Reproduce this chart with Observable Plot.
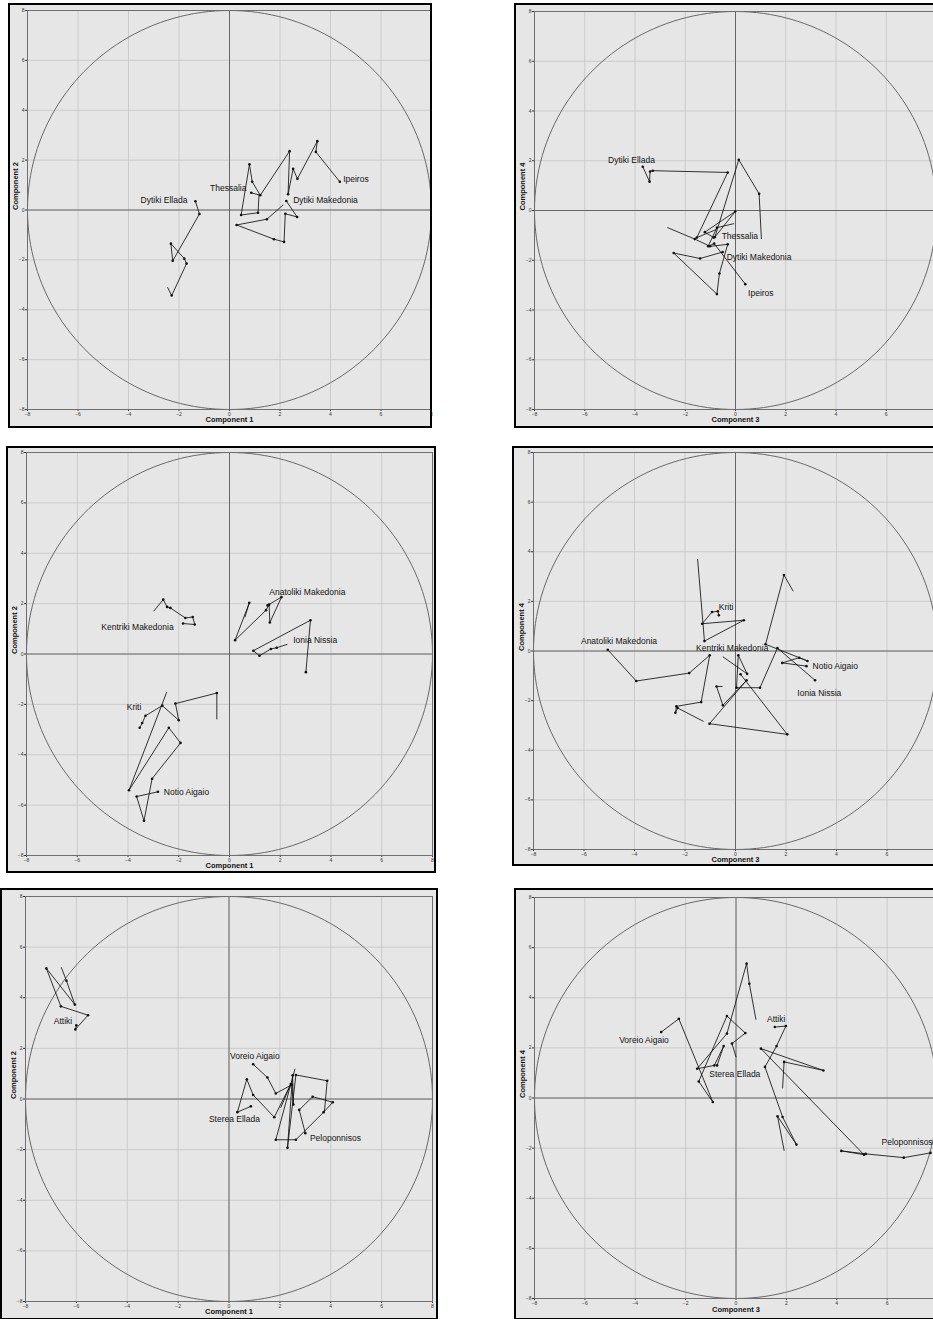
<!DOCTYPE html>
<html><head><meta charset="utf-8">
<script src="https://cdn.jsdelivr.net/npm/d3@7"></script>
<script src="https://cdn.jsdelivr.net/npm/@observablehq/plot@0.6"></script>
<style>
html,body{margin:0;padding:0;background:#fff;width:933px;height:1319px;overflow:hidden;}
#root{position:relative;width:933px;height:1319px;overflow:hidden;font-family:"Liberation Sans",Arial,sans-serif;}
.bg{position:absolute;background:#e6e6e6;}
.bd{position:absolute;border:2px solid #000;box-sizing:border-box;pointer-events:none;}
.pl{position:absolute;}
</style></head><body>
<div id="root"></div>
<script>
// ---- tick values ----
const ticks = [-8, -6, -4, -2, 0, 2, 4, 6, 8];

// ---- Top-left: Component 1 vs Component 2 ----
const tl_dytikiEllada = [[-2.45,-3.11],[-2.29,-3.43],[-1.70,-2.15],[-1.79,-1.95],[-2.32,-1.35],[-2.25,-2.04],[-1.19,-0.16],[-1.35,0.35]];
const tl_thessalia = [[1.17,0.63],[1.13,-0.11],[0.46,-0.20],[0.79,1.83],[0.90,1.13],[1.22,0.59],[0.86,0.69]];
const tl_ipeiros = [[1.22,0.59],[2.38,2.36],[2.32,0.63],[2.52,1.65],[2.69,1.25],[3.48,2.76],[3.42,2.33],[4.37,1.13]];
const tl_dytikiMakedonia = [[2.12,0.20],[1.48,-0.37],[0.28,-0.60],[1.76,-1.17],[2.16,-1.28],[2.21,-0.15],[2.68,-0.28],[2.25,0.36]];
const tl_labels = [
  {text:"Dytiki Ellada", x:-3.52, y:0.40},
  {text:"Thessalia", x:-0.77, y:0.89},
  {text:"Ipeiros", x:4.5, y:1.23},
  {text:"Dytiki Makedonia", x:2.52, y:0.39}
];

// ---- Top-right: Component 3 vs Component 4 ----
const tr_dytikiEllada = [[-0.78,-0.77],[-1.54,-1.09],[-0.31,1.53],[-3.29,1.60],[-3.40,1.57],[-3.42,1.16],[-3.69,1.76]];
const tr_thessalia = [[1.03,-1.13],[0.94,0.67],[0.13,2.04],[-0.82,-1.07],[-0.01,-0.04],[-1.22,-0.87],[-0.87,-1.09]];
const tr_dytikiMakedonia = [[-2.70,-0.69],[-1.62,-1.15],[-1.01,-1.44],[-0.31,-1.36],[-0.64,-2.53],[-0.74,-3.36],[-2.46,-1.71],[-1.41,-1.93],[-0.51,-1.67]];
const tr_ipeiros = [[-0.07,-0.53],[-0.74,-0.69],[-1.09,-1.44],[-0.85,-1.33],[0.39,-2.96]];
const tr_labels = [
  {text:"Dytiki Ellada", x:-5.07, y:2.0},
  {text:"Thessalia", x:-0.55, y:-1.04},
  {text:"Dytiki Makedonia", x:-0.35, y:-1.89},
  {text:"Ipeiros", x:0.50, y:-3.33}
];

// ---- Middle-left: Component 1 vs Component 2 ----
const ml_kentrikiMakedonia = [[-2.98,1.71],[-2.61,2.16],[-2.46,1.87],[-2.33,1.83],[-1.74,1.43],[-1.45,1.47],[-1.37,1.17],[-1.83,1.21]];
const ml_anatolikiMakedonia = [[0.61,1.47],[0.78,2.03],[0.22,0.55],[1.44,1.74],[1.56,1.96],[1.59,1.25],[2.05,2.26],[1.50,1.93]];
const ml_ioniaNissia = [[2.27,0.38],[1.86,0.25],[1.63,0.20],[1.18,-0.07],[0.94,0.13],[3.19,1.34],[3.01,-0.72]];
const ml_kriti = [[-0.50,-2.58],[-0.50,-1.55],[-2.13,-1.97],[-2.00,-2.63],[-2.65,-2.05],[-3.31,-2.45],[-3.44,-2.74],[-3.54,-2.93]];
const ml_notioAigaio = [[-2.48,-1.53],[-3.96,-5.41],[-2.39,-2.93],[-1.93,-3.53],[-3.05,-4.95],[-3.37,-6.62],[-3.66,-5.66],[-2.82,-5.47]];
const ml_labels = [
  {text:"Kentriki Makedonia", x:-5.05, y:1.08},
  {text:"Anatoliki Makedonia", x:1.57, y:2.46},
  {text:"Ionia Nissia", x:2.51, y:0.55},
  {text:"Kriti", x:-4.05, y:-2.11},
  {text:"Notio Aigaio", x:-2.59, y:-5.50}
];

// ---- Middle-right: Component 3 vs Component 4 ----
const mr_anatolikiMakedonia = [[-1.28,-2.83],[-2.29,-2.30],[-2.38,-2.49],[-2.34,-2.23],[-1.36,-2.06],[-1.02,-0.17],[-1.83,-0.89],[-3.93,-1.21],[-5.06,0.05]];
const mr_kriti = [[-1.50,3.69],[-1.23,0.40],[0.33,1.24],[-1.32,1.10],[-0.93,1.57],[-0.70,1.60],[-0.66,1.44]];
const mr_kentrikiMakedonia = [[-0.53,-1.43],[-0.75,-1.43],[-0.50,-2.19],[0.44,-1.18],[-1.03,-2.93],[2.05,-3.36],[0.20,-0.94]];
const mr_ioniaNissia = [[-0.49,-0.24],[0.46,-0.92],[0.11,-0.17],[0.04,-1.48],[0.97,-1.48],[1.66,0.12],[3.15,-1.18]];
const mr_notioAigaio = [[2.28,2.42],[1.92,3.06],[1.19,0.27],[2.85,-0.40],[2.52,-0.27],[1.85,-0.48],[2.81,-0.61]];
const mr_labels = [
  {text:"Kriti", x:-0.66, y:1.75},
  {text:"Anatoliki Makedonia", x:-6.12, y:0.40},
  {text:"Kentriki Makedonia", x:-1.56, y:0.13},
  {text:"Notio Aigaio", x:3.05, y:-0.61},
  {text:"Ionia Nissia", x:2.45, y:-1.70}
];

// ---- Bottom-left: Component 1 vs Component 2 ----
const bl_attiki = [[-6.59,5.19],[-6.39,4.67],[-6.06,3.73],[-7.18,5.16],[-6.61,3.66],[-5.54,3.31],[-6.04,2.75],[-6.00,2.91]];
const bl_voreioAigaio = [[3.75,-0.52],[3.86,0.72],[2.63,0.95],[2.30,-1.93],[2.50,0.94],[2.53,-0.22],[2.47,0.56],[1.84,0.22],[1.51,0.85],[0.95,1.37]];
const bl_stereaEllada = [[2.04,-0.33],[2.43,0.59],[1.78,-0.72],[0.95,0.16],[0.70,0.78],[0.33,-0.52],[0.86,-0.29]];
const bl_peloponnisos = [[2.59,1.18],[1.84,-1.61],[2.63,-1.61],[3.72,-0.52],[4.08,-0.13],[3.29,0.09],[2.76,-0.43],[3.00,-1.35]];
const bl_labels = [
  {text:"Attiki", x:-6.89, y:3.07},
  {text:"Voreio Aigaio", x:0.04, y:1.67},
  {text:"Sterea Ellada", x:-0.79, y:-0.82},
  {text:"Peloponnisos", x:3.18, y:-1.57}
];

// ---- Bottom-right: Component 3 vs Component 4 ----
const br_voreioAigaio = [[0.00,1.64],[-0.16,2.17],[0.37,2.59],[-0.36,3.27],[-1.48,0.66],[-0.92,-0.16],[-2.27,3.16],[-2.97,2.63]];
const br_stereaEllada = [[0.79,3.14],[0.53,4.56],[0.42,5.36],[-0.36,2.57],[-1.54,1.17],[-0.86,1.30],[-0.49,2.07],[-0.75,1.30]];
const br_attiki = [[1.91,-2.09],[1.65,-0.73],[2.40,-1.86],[1.85,-0.76],[1.15,1.24],[1.61,2.07],[1.98,2.87],[1.54,2.83]];
const br_peloponnisos = [[1.85,0.40],[1.91,1.44],[3.47,1.10],[0.99,1.97],[5.08,-2.26],[4.18,-2.11],[5.15,-2.23],[6.66,-2.38],[7.72,-2.19]];
const br_labels = [
  {text:"Voreio Aigaio", x:-4.64, y:2.30},
  {text:"Attiki", x:1.23, y:3.16},
  {text:"Sterea Ellada", x:-1.06, y:0.93},
  {text:"Peloponnisos", x:5.78, y:-1.76}
];

// reference circle of radius 8 (unit circle outline)
const circle = d3.range(0, 361, 2).map(a => [8 * Math.cos(a * Math.PI / 180), 8 * Math.sin(a * Math.PI / 180)]);

const panels = [
  {box:[8,3,432,428], plot:[27,431,10,409], xl:"Component 1", yl:"Component 2", ldy:12,
   tracks:[tl_dytikiEllada, tl_thessalia, tl_ipeiros, tl_dytikiMakedonia], labels:tl_labels},
  {box:[514,3,940,428], plot:[534,936,11,409], xl:"Component 3", yl:"Component 4", ldy:12,
   tracks:[tr_dytikiEllada, tr_thessalia, tr_dytikiMakedonia, tr_ipeiros], labels:tr_labels},
  {box:[6,446,436,873], plot:[26,432,452,855], xl:"Component 1", yl:"Component 2", ldy:12,
   tracks:[ml_kentrikiMakedonia, ml_anatolikiMakedonia, ml_ioniaNissia, ml_kriti, ml_notioAigaio], labels:ml_labels},
  {box:[512,446,940,866], plot:[533,937,452,849], xl:"Component 3", yl:"Component 4", ldy:12,
   tracks:[mr_anatolikiMakedonia, mr_kriti, mr_kentrikiMakedonia, mr_ioniaNissia, mr_notioAigaio], labels:mr_labels},
  {box:[0,888,438,1320], plot:[25,432,896,1301], xl:"Component 1", yl:"Component 2", ldy:12,
   tracks:[bl_attiki, bl_voreioAigaio, bl_stereaEllada, bl_peloponnisos], labels:bl_labels},
  {box:[514,888,940,1320], plot:[534,937,897,1298], xl:"Component 3", yl:"Component 4", ldy:13,
   tracks:[br_voreioAigaio, br_stereaEllada, br_attiki, br_peloponnisos], labels:br_labels}
];

const root = document.getElementById("root");
for (const p of panels) {
  const [bx0, by0, bx1, by1] = p.box;
  const [px0, px1, py0, py1] = p.plot;
  const width = bx1 - bx0, height = by1 - by0;
  const bg = document.createElement("div");
  bg.className = "bg";
  Object.assign(bg.style, {left: bx0 + "px", top: by0 + "px", width: width + "px", height: height + "px"});
  root.appendChild(bg);

  const marks = [
    Plot.ruleX(ticks, {stroke: "#c4c4c4", strokeWidth: 0.8}),
    Plot.ruleY(ticks, {stroke: "#c4c4c4", strokeWidth: 0.8}),
    Plot.ruleX([0], {stroke: "#5a5a5a", strokeWidth: 0.9}),
    Plot.ruleY([0], {stroke: "#5a5a5a", strokeWidth: 0.9}),
    Plot.line(circle, {x: d => d[0], y: d => d[1], stroke: "#5a5a5a", strokeWidth: 0.9}),
    Plot.frame({stroke: "#6e6e6e", strokeWidth: 1})
  ];
  for (const t of p.tracks) {
    marks.push(Plot.line(t, {x: d => d[0], y: d => d[1], stroke: "#111", strokeWidth: 0.85}));
    marks.push(Plot.dot(t.slice(1), {x: d => d[0], y: d => d[1], r: 1.3, fill: "#111", stroke: "none"}));
  }
  marks.push(Plot.text(p.labels, {x: "x", y: "y", text: "text", textAnchor: "start", fontSize: 8.5, fill: "#111"}));
  marks.push(Plot.text([p.xl], {frameAnchor: "bottom", dy: p.ldy, fontWeight: "bold", fontSize: 7.5, fill: "#111"}));
  marks.push(Plot.text([p.yl], {frameAnchor: "left", dx: -12, rotate: -90, fontWeight: "bold", fontSize: 7.5, fill: "#111"}));

  const svg = Plot.plot({
    width, height,
    marginLeft: px0 - bx0, marginRight: bx1 - px1, marginTop: py0 - by0, marginBottom: by1 - py1,
    x: {domain: [-8, 8], ticks: ticks, tickSize: 2, tickPadding: 0.5, label: null},
    y: {domain: [-8, 8], ticks: ticks, tickSize: 2, tickPadding: 1, label: null},
    style: {background: "transparent", fontFamily: "'Liberation Sans', Arial, sans-serif", fontSize: "5px", color: "#333", overflow: "visible"},
    marks
  });
  svg.classList.add("pl");
  Object.assign(svg.style, {position: "absolute", left: bx0 + "px", top: by0 + "px", maxWidth: "none"});
  root.appendChild(svg);

  const bd = document.createElement("div");
  bd.className = "bd";
  Object.assign(bd.style, {left: bx0 + "px", top: by0 + "px", width: width + "px", height: height + "px"});
  root.appendChild(bd);
}
</script>
</body></html>
